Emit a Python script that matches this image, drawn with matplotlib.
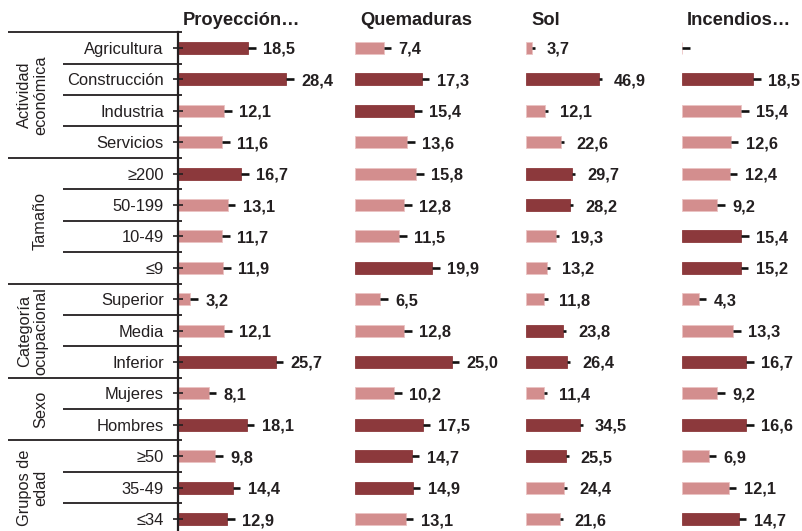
import numpy as np
import matplotlib
matplotlib.use("Agg")
import matplotlib.pyplot as plt

plt.rcParams['font.family'] = ['Liberation Sans', 'DejaVu Sans']

rows = ["Agricultura", "Construcción", "Industria", "Servicios",
        "≥200", "50-199", "10-49", "≤9",
        "Superior", "Media", "Inferior",
        "Mujeres", "Hombres",
        "≥50", "35-49", "≤34"]
groups = ["Actividad\neconómica", "Tamaño", "Categoría\nocupacional", "Sexo", "Grupos de\nedad"]
group_sizes = [4, 4, 3, 2, 3]

titles = ["Proyección…", "Quemaduras", "Sol", "Incendios…"]
proyeccion = [18.5, 28.4, 12.1, 11.6, 16.7, 13.1, 11.7, 11.9, 3.2, 12.1, 25.7, 8.1, 18.1, 9.8, 14.4, 12.9]
quemaduras = [7.4, 17.3, 15.4, 13.6, 15.8, 12.8, 11.5, 19.9, 6.5, 12.8, 25.0, 10.2, 17.5, 14.7, 14.9, 13.1]
sol = [3.7, 46.9, 12.1, 22.6, 29.7, 28.2, 19.3, 13.2, 11.8, 23.8, 26.4, 11.4, 34.5, 25.5, 24.4, 21.6]
incendios = [np.nan, 18.5, 15.4, 12.6, 12.4, 9.2, 15.4, 15.2, 4.3, 13.3, 16.7, 9.2, 16.6, 6.9, 12.1, 14.7]
# 1 = highlighted (dark), 0 = normal (light)
hl_proyeccion = [1, 1, 0, 0, 1, 0, 0, 0, 0, 0, 1, 0, 1, 0, 1, 1]
hl_quemaduras = [0, 1, 1, 0, 0, 0, 0, 1, 0, 0, 1, 0, 1, 1, 1, 0]
hl_sol = [0, 1, 0, 0, 1, 1, 0, 0, 0, 1, 1, 0, 1, 1, 0, 0]
hl_incendios = [0, 1, 0, 0, 0, 0, 1, 1, 0, 0, 1, 0, 1, 0, 0, 1]

series = [proyeccion, quemaduras, sol, incendios]
highlights = [hl_proyeccion, hl_quemaduras, hl_sol, hl_incendios]

DARK = "#8C393C"
LIGHT = "#D38E8E"
LIGHT_EDGE = "#EBC3C3"
TXT = "#231F20"

W, H = 802, 531
fig = plt.figure(figsize=(W / 100, H / 100), dpi=100)

row_h = 31.4
top_px = 32.3
n = len(rows)
bot_px = top_px + n * row_h
ax_bottom = 1 - bot_px / H
ax_height = (bot_px - top_px) / H

# panel layout in pixels: (left, width, pixels per unit)
panels = [(178, 165, 3.80), (355, 160, 3.86), (526, 150, 1.56), (682, 115, 3.85)]

y = np.arange(n)
axes = []
for k, (left, width, scale) in enumerate(panels):
    ax = fig.add_axes([left / W, ax_bottom, width / W, ax_height])
    vals = np.array(series[k], dtype=float)
    cols = [DARK if h else LIGHT for h in highlights[k]]
    edges = [DARK if h else LIGHT_EDGE for h in highlights[k]]
    plot_vals = np.nan_to_num(vals, nan=0.0)
    ax.barh(y, plot_vals, height=0.38, color=cols, edgecolor=edges, linewidth=0.6)
    dash = 2.0
    ax.hlines(y, plot_vals, plot_vals + dash, color="#111111", lw=1.9)
    for yi, v in zip(y, vals):
        if np.isnan(v):
            continue
        ax.annotate(f"{v:.1f}".replace(".", ","), xy=(v, yi), xytext=(10.8, 0),
                    textcoords="offset points", ha="left", va="center_baseline",
                    fontsize=11.8, fontweight="bold", color=TXT)
    ax.set_xlim(0, width / scale)
    ax.set_ylim(n - 0.5, -0.5)
    for s in ["top", "right", "bottom"]:
        ax.spines[s].set_visible(False)
    ax.set_xticks([])
    if k == 0:
        ax.spines["left"].set_linewidth(1.6)
        ax.spines["left"].set_color(TXT)
        ax.set_yticks(y)
        ax.set_yticklabels(rows, fontsize=11.9, color=TXT)
        ax.tick_params(axis="y", direction="inout", length=6.5, width=1.2, color=TXT, pad=7)
    else:
        ax.spines["left"].set_visible(False)
        ax.set_yticks([])
    ax.annotate(titles[k], xy=(0, 1), xycoords="axes fraction", xytext=(3.6, 5.2),
                textcoords="offset points", ha="left", va="baseline",
                fontsize=13.2, fontweight="bold", color=TXT)
    axes.append(ax)

# label / separator axes
lab = fig.add_axes([0, ax_bottom, 178 / W, ax_height])
lab.set_xlim(0, 178)
lab.set_ylim(n - 0.5, -0.5)
lab.axis("off")

lab.plot([8, 182], [-0.5, -0.5], color=TXT, lw=1.3, clip_on=False, solid_capstyle="butt")
start = 0
for g, size in zip(groups, group_sizes):
    end = start + size
    for b in range(start + 1, end):
        lab.plot([63, 182], [b - 0.5, b - 0.5], color=TXT, lw=1.3, clip_on=False, solid_capstyle="butt")
    if end < n:
        lab.plot([8, 182], [end - 0.5, end - 0.5], color=TXT, lw=1.3, clip_on=False, solid_capstyle="butt")
    center = (start + end - 1) / 2
    lab.text(48, center, g, rotation=90, ha="right", va="center", multialignment="center",
             fontsize=11.8, color=TXT, linespacing=1.1)
    start = end

fig.savefig("out.png", dpi=100)
